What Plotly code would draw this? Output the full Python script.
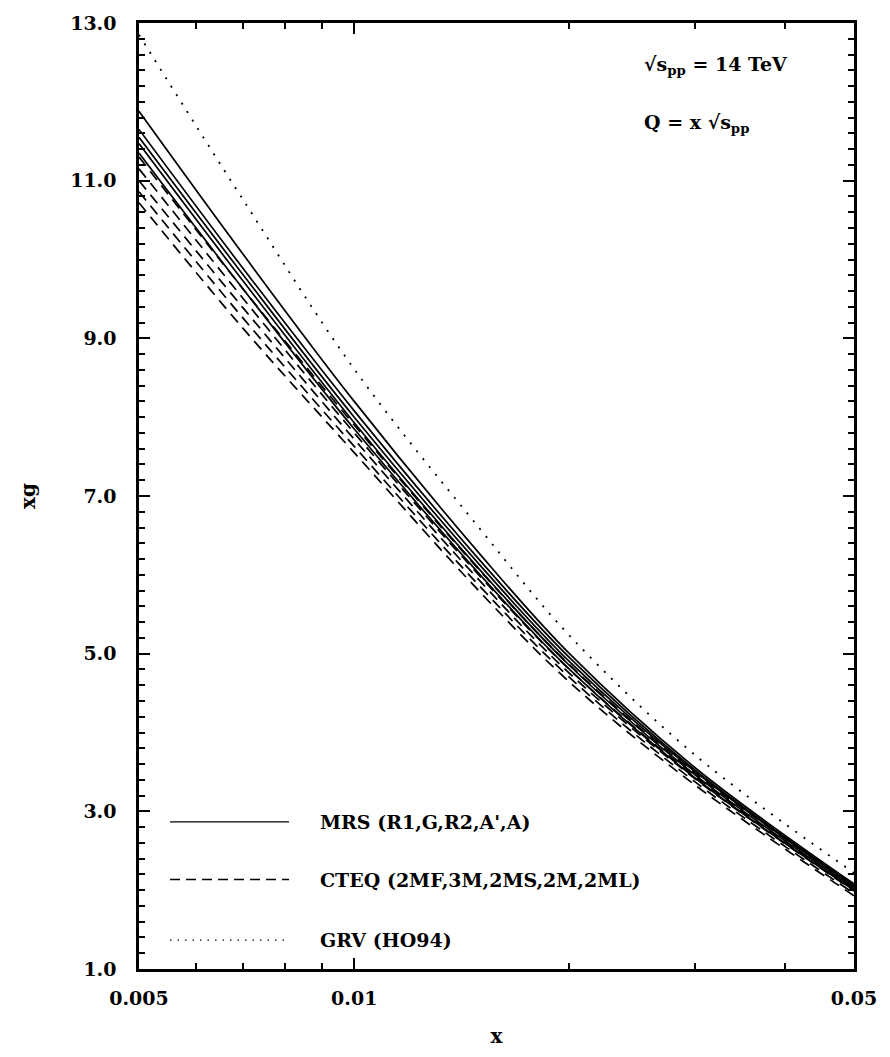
import math
import plotly.graph_objects as go

# ---- data ----
x_vals = [0.005, 0.007, 0.01, 0.015, 0.02, 0.03, 0.05]

mrs_r1 = [11.88, 10.06, 8.20, 6.26, 5.00, 3.55, 2.08]
mrs_g  = [11.65, 9.88, 8.08, 6.18, 4.95, 3.52, 2.06]
mrs_r2 = [11.55, 9.80, 8.00, 6.12, 4.90, 3.50, 2.04]
mrs_ap = [11.47, 9.72, 7.93, 6.06, 4.85, 3.46, 2.02]
mrs_a  = [11.35, 9.62, 7.85, 6.00, 4.80, 3.42, 2.00]

cteq_2mf = [11.30, 9.62, 7.90, 6.05, 4.86, 3.48, 2.05]
cteq_3m  = [11.15, 9.50, 7.80, 5.98, 4.80, 3.44, 2.02]
cteq_2ms = [11.00, 9.38, 7.72, 5.92, 4.75, 3.41, 1.99]
cteq_2m  = [10.86, 9.25, 7.63, 5.85, 4.70, 3.37, 1.96]
cteq_2ml = [10.72, 9.12, 7.55, 5.78, 4.64, 3.33, 1.93]

grv_ho94 = [12.85, 10.75, 8.61, 6.58, 5.23, 3.71, 2.22]

x_ticks = [0.005, 0.01, 0.05]
x_ticktext = ["0.005", "0.01", "0.05"]
x_minor = [0.006, 0.007, 0.008, 0.009, 0.02, 0.03, 0.04]
y_ticks = [1, 3, 5, 7, 9, 11, 13]

legend_labels = ["MRS (R1,G,R2,A',A)", "CTEQ (2MF,3M,2MS,2M,2ML)", "GRV (HO94)"]

FONT = "DejaVu Serif"
FS = 19
fig = go.Figure()

for ys in [mrs_r1, mrs_g, mrs_r2, mrs_ap, mrs_a]:
    fig.add_trace(go.Scatter(x=x_vals, y=ys, mode="lines", showlegend=False,
                             line=dict(color="black", width=1.7, shape="spline")))
for ys in [cteq_2mf, cteq_3m, cteq_2ms, cteq_2m, cteq_2ml]:
    fig.add_trace(go.Scatter(x=x_vals, y=ys, mode="lines", showlegend=False,
                             line=dict(color="black", width=1.7, shape="spline", dash="11px,7px")))
fig.add_trace(go.Scatter(x=x_vals, y=grv_ho94, mode="lines", showlegend=False,
                         line=dict(color="black", width=1.8, shape="spline", dash="2px,8px")))

# legend drawn manually
leg_y = [0.1556, 0.0946, 0.0305]
leg_dash = ["solid", "10px,6px", "1.5px,6px"]
for yy, dsh, lab in zip(leg_y, leg_dash, legend_labels):
    fig.add_shape(type="line", xref="paper", yref="paper", x0=0.0434, x1=0.2098, y0=yy, y1=yy,
                  line=dict(color="black", width=1.3, dash=dsh))
    fig.add_annotation(xref="paper", yref="paper", x=0.2503, y=yy, text=lab, showarrow=False,
                       xanchor="left", yanchor="middle",
                       font=dict(family=FONT, size=FS, color="black", weight="bold"))

fig.add_annotation(xref="paper", yref="paper", x=0.703, y=0.955,
                   text="√s<sub>pp</sub> = 14 TeV", showarrow=False, xanchor="left", yanchor="middle",
                   font=dict(family=FONT, size=FS, color="black", weight="bold"))
fig.add_annotation(xref="paper", yref="paper", x=0.703, y=0.894,
                   text="Q = x √s<sub>pp</sub>", showarrow=False, xanchor="left", yanchor="middle",
                   font=dict(family=FONT, size=FS, color="black", weight="bold"))

fig.update_layout(
    width=890, height=1057,
    margin=dict(l=139, r=36, t=20, b=86),
    paper_bgcolor="white", plot_bgcolor="white",
    font=dict(family=FONT, size=FS, color="black", weight="bold"),
    xaxis=dict(type="log", range=[math.log10(0.005), math.log10(0.05)],
               tickmode="array", tickvals=x_ticks, ticktext=x_ticktext,
               ticks="inside", ticklen=11, tickwidth=2, tickcolor="black",
               showline=True, linewidth=2.5, linecolor="black", mirror="allticks",
               showgrid=False, zeroline=False, ticklabelstandoff=10,
               minor=dict(tickmode="array", tickvals=x_minor, ticks="inside", ticklen=6,
                          tickwidth=2, tickcolor="black", showgrid=False),
               title=dict(text="x", standoff=22, font=dict(family=FONT, size=FS + 1, weight="bold")),
               tickfont=dict(family=FONT, size=FS, weight="bold")),
    yaxis=dict(range=[1, 13], tickmode="array", tickvals=y_ticks, tickformat=".1f",
               ticks="inside", ticklen=11, tickwidth=2, tickcolor="black",
               showline=True, linewidth=2.5, linecolor="black", mirror="allticks",
               showgrid=False, zeroline=False, ticklabelstandoff=16,
               minor=dict(dtick=0.2, tick0=1, ticks="inside", ticklen=6, tickwidth=2,
                          tickcolor="black", showgrid=False),
               title=dict(text="xg", standoff=30, font=dict(family=FONT, size=FS + 1, weight="bold")),
               tickfont=dict(family=FONT, size=FS, weight="bold")),
)

fig.write_html("out.html")
